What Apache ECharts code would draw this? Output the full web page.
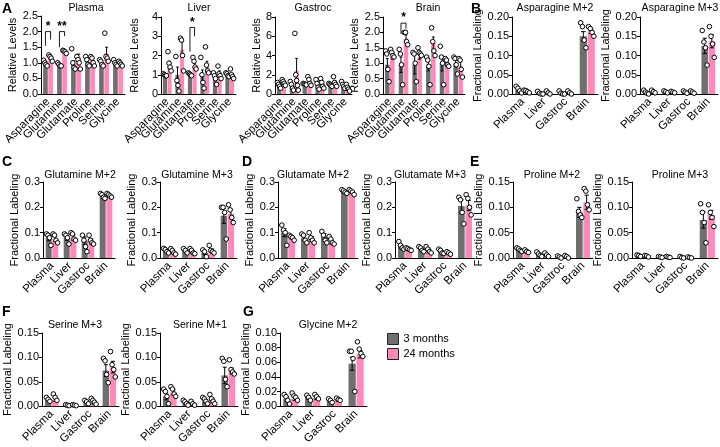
<!DOCTYPE html>
<html>
<head>
<meta charset="utf-8">
<script src="https://cdn.jsdelivr.net/npm/echarts@6/dist/echarts.min.js"></script>
<style>
  html, body { margin: 0; padding: 0; background: #fff; }
  #chart { width: 720px; height: 447px; }
</style>
</head>
<body>
<div id="chart"></div>
<script>
// categories
const aminoAcids = ['Asparagine', 'Glutamine', 'Glutamate', 'Proline', 'Serine', 'Glycine'];
const tissues = ['Plasma', 'Liver', 'Gastroc', 'Brain'];
const groups = ['3 months', '24 months'];

// A - relative levels
const plasmaMean3 = [1.0, 0.95, 0.95, 1.02, 1.0, 1.0];
const plasmaMean24 = [1.15, 1.33, 1.18, 1.08, 1.3, 0.95];
const plasmaSem3 = [0.04, 0.03, 0.12, 0.06, 0.05, 0.04];
const plasmaSem24 = [0.05, 0.03, 0.1, 0.06, 0.2, 0.03];
const plasmaPts3 = [[1.08, 1.0, 0.95, 0.9], [1.0, 0.95, 0.9, 0.9], [1.45, 1.0, 0.85, 0.8], [1.2, 1.1, 0.95, 0.9], [1.1, 1.05, 0.95, 0.9], [1.1, 1.0, 0.95, 0.9]];
const plasmaPts24 = [[1.25, 1.2, 1.15, 1.05], [1.4, 1.38, 1.35, 1.3], [1.2, 1.1, 1.0, 0.8], [1.2, 1.15, 1.0, 0.9], [1.95, 1.2, 1.15, 1.05], [1.05, 1.0, 0.95, 0.9]];
const plasmaSig = [[0, 2.0, 1.55, 1.75, '*'], [1, 2.0, 1.5, 1.85, '**']];

const liverMean3 = [1.0, 1.0, 1.0, 0.95, 1.0, 1.0];
const liverMean24 = [1.5, 2.3, 1.45, 1.4, 1.05, 0.95];
const liverSem3 = [0.03, 0.4, 0.05, 0.3, 0.12, 0.06];
const liverSem24 = [0.2, 0.4, 0.15, 0.3, 0.15, 0.1];
const liverPts3 = [[1.05, 1.0, 0.95, 0.95], [1.95, 0.7, 0.45, 0.15], [1.1, 1.05, 1.0, 0.95], [1.9, 1.0, 0.6, 0.3], [1.1, 0.95, 0.8, 0.5], [1.1, 1.05, 0.95, 0.9]];
const liverPts24 = [[2.2, 1.6, 1.4, 1.2], [2.9, 2.8, 2.0, 1.2], [1.9, 1.7, 1.4, 1.3], [2.45, 1.5, 1.2, 1.1], [1.45, 1.05, 0.95, 0.8], [1.3, 1.0, 0.9, 0.8]];
const liverSig = [[2, 3.46, 2.2, 3.0, '*']];

const gastrocMean3 = [1.0, 0.9, 1.0, 1.0, 1.0, 0.9];
const gastrocMean24 = [1.2, 2.4, 1.3, 0.9, 1.1, 0.5];
const gastrocSem3 = [0.15, 0.2, 0.05, 0.2, 0.1, 0.15];
const gastrocSem24 = [0.15, 1.3, 0.2, 0.2, 0.25, 0.15];
const gastrocPts3 = [[1.2, 1.0, 0.8, 0.6], [1.3, 1.0, 0.6, 0.4], [1.1, 1.05, 1.0, 0.95], [1.5, 1.1, 0.7, 0.5], [1.1, 1.0, 0.9, 0.8], [1.3, 1.0, 0.8, 0.6]];
const gastrocPts24 = [[1.5, 1.3, 1.1, 0.9], [6.3, 2.0, 1.4, 0.9, 0.4], [1.8, 1.5, 1.1, 0.9], [1.6, 1.2, 0.8, 0.6], [1.8, 1.2, 1.0, 0.8], [1.0, 0.7, 0.5, 0.3]];

const brainMean3 = [0.95, 0.95, 0.95, 0.95, 1.0, 1.0];
const brainMean24 = [1.2, 1.8, 1.2, 1.65, 0.95, 0.9];
const brainSem3 = [0.2, 0.25, 0.3, 0.2, 0.25, 0.12];
const brainSem24 = [0.07, 0.12, 0.07, 0.2, 0.07, 0.15];
const brainPts3 = [[1.4, 1.3, 0.8, 0.4], [1.45, 1.3, 0.95, 0.3], [1.35, 1.3, 1.0, 0.4], [1.2, 1.1, 0.9, 0.3], [1.55, 1.2, 1.0, 0.3], [1.2, 1.15, 0.95, 0.65]];
const brainPts24 = [[1.45, 1.35, 1.25, 1.2], [2.0, 2.0, 1.7, 1.6], [1.5, 1.35, 1.3, 1.25], [2.15, 1.7, 1.4, 1.25], [1.15, 1.1, 0.95, 0.9], [1.15, 1.1, 0.8, 0.55]];
const brainSig = [[1, 2.3, 1.95, 2.12, '*']];

// B - asparagine
const asnM2Mean3 = [0.01, 0.002, 0.002, 0.15];
const asnM2Mean24 = [0.006, 0.002, 0.002, 0.163];
const asnM2Sem3 = [0.004, 0.002, 0.002, 0.012];
const asnM2Sem24 = [0.002, 0.002, 0.002, 0.006];
const asnM2Pts3 = [[0.02, 0.015, 0.008, 0.003], [0.007, 0.002, 0.0, 0.0], [0.008, 0.002, 0.0, 0.0], [0.185, 0.175, 0.14, 0.12]];
const asnM2Pts24 = [[0.01, 0.009, 0.006, 0.003], [0.008, 0.003, 0.0], [0.008, 0.003, 0.0], [0.175, 0.17, 0.16, 0.15]];

const asnM3Mean3 = [0.004, 0.004, 0.004, 0.125];
const asnM3Mean24 = [0.004, 0.003, 0.003, 0.137];
const asnM3Sem3 = [0.002, 0.001, 0.001, 0.02];
const asnM3Sem24 = [0.002, 0.001, 0.001, 0.017];
const asnM3Pts3 = [[0.01, 0.005, 0.002, 0.0], [0.008, 0.006, 0.003], [0.008, 0.005, 0.002], [0.165, 0.135, 0.12, 0.075]];
const asnM3Pts24 = [[0.01, 0.006, 0.003], [0.007, 0.005, 0.003], [0.008, 0.005, 0.002], [0.175, 0.15, 0.13, 0.095]];

// C - glutamine
const glnM2Mean3 = [0.08, 0.08, 0.068, 0.24];
const glnM2Mean24 = [0.075, 0.08, 0.065, 0.245];
const glnM2Sem3 = [0.012, 0.01, 0.015, 0.005];
const glnM2Sem24 = [0.01, 0.01, 0.01, 0.004];
const glnM2Pts3 = [[0.095, 0.09, 0.08, 0.05], [0.095, 0.09, 0.08, 0.055], [0.09, 0.07, 0.045, 0.025], [0.255, 0.25, 0.24, 0.235]];
const glnM2Pts24 = [[0.095, 0.09, 0.07, 0.06], [0.1, 0.095, 0.075, 0.07], [0.09, 0.07, 0.06, 0.055], [0.255, 0.25, 0.245, 0.24]];

const glnM3Mean3 = [0.03, 0.028, 0.02, 0.167];
const glnM3Mean24 = [0.025, 0.025, 0.03, 0.175];
const glnM3Sem3 = [0.005, 0.004, 0.007, 0.03];
const glnM3Sem24 = [0.006, 0.005, 0.006, 0.017];
const glnM3Pts3 = [[0.038, 0.033, 0.025, 0.02], [0.037, 0.03, 0.02], [0.032, 0.025, 0.005], [0.2, 0.2, 0.18, 0.075]];
const glnM3Pts24 = [[0.037, 0.03, 0.02, 0.015], [0.037, 0.03, 0.02, 0.017], [0.05, 0.03, 0.025, 0.02], [0.21, 0.19, 0.16, 0.14]];

// D - glutamate
const gluM2Mean3 = [0.1, 0.08, 0.085, 0.26];
const gluM2Mean24 = [0.08, 0.075, 0.063, 0.26];
const gluM2Sem3 = [0.016, 0.01, 0.012, 0.004];
const gluM2Sem24 = [0.005, 0.01, 0.008, 0.005];
const gluM2Pts3 = [[0.13, 0.11, 0.1, 0.05], [0.095, 0.09, 0.07, 0.06], [0.105, 0.09, 0.07, 0.06], [0.27, 0.265, 0.26, 0.255]];
const gluM2Pts24 = [[0.09, 0.085, 0.08, 0.07], [0.1, 0.08, 0.07, 0.06], [0.085, 0.075, 0.06, 0.055], [0.27, 0.265, 0.26, 0.25]];

const gluM3Mean3 = [0.045, 0.035, 0.025, 0.205];
const gluM3Mean24 = [0.035, 0.033, 0.018, 0.207];
const gluM3Sem3 = [0.007, 0.005, 0.004, 0.025];
const gluM3Sem24 = [0.003, 0.006, 0.003, 0.02];
const gluM3Pts3 = [[0.065, 0.05, 0.04, 0.035], [0.045, 0.04, 0.03, 0.025], [0.035, 0.03, 0.02, 0.018], [0.24, 0.23, 0.18, 0.135]];
const gluM3Pts24 = [[0.04, 0.037, 0.033, 0.03], [0.045, 0.035, 0.025, 0.02], [0.025, 0.02, 0.015], [0.25, 0.235, 0.2, 0.17]];

// E - proline
const proM2Mean3 = [0.016, 0.007, 0.002, 0.09];
const proM2Mean24 = [0.012, 0.005, 0.003, 0.11];
const proM2Sem3 = [0.002, 0.002, 0.001, 0.01];
const proM2Sem24 = [0.001, 0.002, 0.001, 0.014];
const proM2Pts3 = [[0.02, 0.018, 0.015, 0.013], [0.012, 0.008, 0.005, 0.003], [0.004, 0.002, 0.0], [0.117, 0.092, 0.085, 0.08]];
const proM2Pts24 = [[0.016, 0.013, 0.011], [0.01, 0.006, 0.003], [0.005, 0.003, 0.0], [0.137, 0.132, 0.105, 0.095]];

const proM3Mean3 = [0.004, 0.002, 0.001, 0.075];
const proM3Mean24 = [0.003, 0.002, 0.001, 0.085];
const proM3Sem3 = [0.001, 0.001, 0.001, 0.016];
const proM3Sem24 = [0.001, 0.001, 0.001, 0.009];
const proM3Pts3 = [[0.006, 0.005, 0.003], [0.003, 0.002, 0.001], [0.003, 0.001, 0.0], [0.107, 0.09, 0.07, 0.03]];
const proM3Pts24 = [[0.005, 0.004, 0.002], [0.003, 0.002, 0.001], [0.002, 0.001, 0.0], [0.105, 0.09, 0.08, 0.062]];

// F - serine
const serM3Mean3 = [0.013, 0.002, 0.008, 0.073];
const serM3Mean24 = [0.013, 0.002, 0.007, 0.08];
const serM3Sem3 = [0.002, 0.001, 0.002, 0.012];
const serM3Sem24 = [0.003, 0.001, 0.003, 0.012];
const serM3Pts3 = [[0.018, 0.014, 0.01], [0.003, 0.002, 0.001], [0.012, 0.009, 0.005], [0.098, 0.093, 0.065, 0.048]];
const serM3Pts24 = [[0.025, 0.018, 0.012], [0.003, 0.002, 0.001], [0.016, 0.012, 0.008, 0.004], [0.112, 0.085, 0.075, 0.06]];

const serM1Mean3 = [0.02, 0.006, 0.01, 0.063];
const serM1Mean24 = [0.028, 0.005, 0.013, 0.072];
const serM1Sem3 = [0.007, 0.002, 0.003, 0.017];
const serM1Sem24 = [0.005, 0.002, 0.004, 0.006];
const serM1Pts3 = [[0.035, 0.03, 0.02, 0.005], [0.012, 0.009, 0.005, 0.002], [0.018, 0.015, 0.01, 0.005], [0.098, 0.092, 0.055, 0.04]];
const serM1Pts24 = [[0.04, 0.035, 0.025, 0.02], [0.01, 0.005, 0.002], [0.024, 0.015, 0.01, 0.005], [0.095, 0.075, 0.07, 0.066]];

// G - glycine
const glyM2Mean3 = [0.01, 0.012, 0.007, 0.058];
const glyM2Mean24 = [0.01, 0.011, 0.008, 0.071];
const glyM2Sem3 = [0.003, 0.002, 0.001, 0.009];
const glyM2Sem24 = [0.002, 0.002, 0.001, 0.005];
const glyM2Pts3 = [[0.016, 0.013, 0.008, 0.003], [0.015, 0.012, 0.008], [0.01, 0.008, 0.005], [0.075, 0.075, 0.065, 0.02]];
const glyM2Pts24 = [[0.018, 0.014, 0.012, 0.008], [0.016, 0.013, 0.01], [0.011, 0.009, 0.008], [0.088, 0.078, 0.072, 0.068]];

const GRAY = '#6f6f6f';
const PINK = '#ff8ab9';
const FONT = '"Liberation Sans", Arial, sans-serif';
const CAT_GAP = 0.3;
const BAR_GAP = 0.1;

// panel layout: box = [left, top, right, bottom] in px
const panels = [
    {title: 'Plasma', cx: 86, ty: 3, cats: aminoAcids, m: [plasmaMean3, plasmaMean24], s: [plasmaSem3, plasmaSem24], p: [plasmaPts3, plasmaPts24], sig: plasmaSig, yMax: 2.5, step: 0.5, dec: 1, yName: 'Relative Levels', gap: 15, box: [41, 16, 125, 94]},
    {title: 'Liver', cx: 199, ty: 3, cats: aminoAcids, m: [liverMean3, liverMean24], s: [liverSem3, liverSem24], p: [liverPts3, liverPts24], sig: liverSig, yMax: 4, step: 1, dec: 0, yName: 'Relative Levels', gap: 21, box: [161, 17, 236, 94]},
    {title: 'Gastroc', cx: 313, ty: 3, cats: aminoAcids, m: [gastrocMean3, gastrocMean24], s: [gastrocSem3, gastrocSem24], p: [gastrocPts3, gastrocPts24], sig: [], yMax: 8, step: 2, dec: 0, yName: 'Relative Levels', gap: 11, box: [275, 17, 352, 94]},
    {title: 'Brain', cx: 428, ty: 3, cats: aminoAcids, m: [brainMean3, brainMean24], s: [brainSem3, brainSem24], p: [brainPts3, brainPts24], sig: brainSig, yMax: 2.5, step: 0.5, dec: 1, yName: 'Relative Levels', gap: 15, box: [383, 17, 465, 94]},
    {title: 'Asparagine M+2', cx: 555, ty: 3, cats: tissues, m: [asnM2Mean3, asnM2Mean24], s: [asnM2Sem3, asnM2Sem24], p: [asnM2Pts3, asnM2Pts24], sig: [], yMax: 0.2, step: 0.05, dec: 2, yName: 'Fractional Labeling', gap: 20, box: [512, 17, 598, 94]},
    {title: 'Asparagine M+3', cx: 680, ty: 3, cats: tissues, m: [asnM3Mean3, asnM3Mean24], s: [asnM3Sem3, asnM3Sem24], p: [asnM3Pts3, asnM3Pts24], sig: [], yMax: 0.2, step: 0.05, dec: 2, yName: 'Fractional Labeling', gap: 22, box: [640, 17, 718, 94]},
    {title: 'Glutamine M+2', cx: 80, ty: 170, cats: tissues, m: [glnM2Mean3, glnM2Mean24], s: [glnM2Sem3, glnM2Sem24], p: [glnM2Pts3, glnM2Pts24], sig: [], yMax: 0.3, step: 0.1, dec: 1, yName: 'Fractional Labeling', gap: 20, box: [43, 182, 115, 258]},
    {title: 'Glutamine M+3', cx: 197, ty: 170, cats: tissues, m: [glnM3Mean3, glnM3Mean24], s: [glnM3Sem3, glnM3Sem24], p: [glnM3Pts3, glnM3Pts24], sig: [], yMax: 0.3, step: 0.1, dec: 1, yName: 'Fractional Labeling', gap: 18, box: [160, 182, 237, 258]},
    {title: 'Glutamate M+2', cx: 313, ty: 170, cats: tissues, m: [gluM2Mean3, gluM2Mean24], s: [gluM2Sem3, gluM2Sem24], p: [gluM2Pts3, gluM2Pts24], sig: [], yMax: 0.3, step: 0.1, dec: 1, yName: 'Fractional Labeling', gap: 19, box: [278, 182, 358, 258]},
    {title: 'Glutamate M+3', cx: 430, ty: 170, cats: tissues, m: [gluM3Mean3, gluM3Mean24], s: [gluM3Sem3, gluM3Sem24], p: [gluM3Pts3, gluM3Pts24], sig: [], yMax: 0.3, step: 0.1, dec: 1, yName: 'Fractional Labeling', gap: 19, box: [395, 182, 475, 258]},
    {title: 'Proline M+2', cx: 552, ty: 170, cats: tissues, m: [proM2Mean3, proM2Mean24], s: [proM2Sem3, proM2Sem24], p: [proM2Pts3, proM2Pts24], sig: [], yMax: 0.15, step: 0.05, dec: 2, yName: 'Fractional Labeling', gap: 22, box: [513, 182, 593, 258]},
    {title: 'Proline M+3', cx: 680, ty: 170, cats: tissues, m: [proM3Mean3, proM3Mean24], s: [proM3Sem3, proM3Sem24], p: [proM3Pts3, proM3Pts24], sig: [], yMax: 0.15, step: 0.05, dec: 2, yName: 'Fractional Labeling', gap: 17, box: [632, 182, 718, 258]},
    {title: 'Serine M+3', cx: 75, ty: 320, cats: tissues, m: [serM3Mean3, serM3Mean24], s: [serM3Sem3, serM3Sem24], p: [serM3Pts3, serM3Pts24], sig: [], yMax: 0.15, step: 0.05, dec: 2, yName: 'Fractional Labeling', gap: 23, box: [42, 333, 119, 411]},
    {title: 'Serine M+1', cx: 200, ty: 320, cats: tissues, m: [serM1Mean3, serM1Mean24], s: [serM1Sem3, serM1Sem24], p: [serM1Pts3, serM1Pts24], sig: [], yMax: 0.15, step: 0.05, dec: 2, yName: 'Fractional Labeling', gap: 22, box: [160, 333, 238, 411]},
    {title: 'Glycine M+2', cx: 328, ty: 320, cats: tissues, m: [glyM2Mean3, glyM2Mean24], s: [glyM2Sem3, glyM2Sem24], p: [glyM2Pts3, glyM2Pts24], sig: [], yMax: 0.1, step: 0.02, dec: 2, yName: 'Fractional Labeling', gap: 14, box: [280, 333, 367, 411]}
];

const letters = [['A', 2, 2], ['B', 471, 2], ['C', 2, 155], ['D', 242, 155], ['E', 470, 155], ['F', 2, 305], ['G', 243, 305]];

// bar geometry helper (same rule ECharts uses for two bars per category)
function barOffset (api, side) {
    const w = api.size([1, 0])[0];
    const bw = w * (1 - CAT_GAP) / (2 + BAR_GAP);
    return {bw: bw, dx: side * bw * (1 + BAR_GAP) / 2};
}

function errorRender (side) {
    return function (params, api) {
        const cat = api.value(0);
        const m = api.value(1);
        const s = api.value(2);
        const g = barOffset(api, side);
        const x = api.coord([cat, m])[0] + g.dx;
        const top = api.coord([cat, m + s])[1];
        const bot = api.coord([cat, Math.max(0, m - s)])[1];
        const cap = g.bw * 0.32;
        const st = {stroke: '#000', lineWidth: 1};
        return {
            type: 'group',
            children: [
                {type: 'line', shape: {x1: x, y1: top, x2: x, y2: bot}, style: st},
                {type: 'line', shape: {x1: x - cap, y1: top, x2: x + cap, y2: top}, style: st},
                {type: 'line', shape: {x1: x - cap, y1: bot, x2: x + cap, y2: bot}, style: st}
            ]
        };
    };
}

function dotRender (side) {
    return function (params, api) {
        const cat = api.value(0);
        const v = api.value(1);
        const j = api.value(2);
        const n = api.value(3);
        const g = barOffset(api, side);
        const spread = Math.min(1.8, g.bw / n);
        const c = api.coord([cat, v]);
        return {
            type: 'circle',
            shape: {cx: c[0] + g.dx + (j - (n - 1) / 2) * spread, cy: c[1], r: 2.3},
            style: {fill: '#fff', stroke: '#000', lineWidth: 1}
        };
    };
}

const sigLabels = {};

function sigRender (params, api) {
    const cat = api.value(0);
    const gl = barOffset(api, -1);
    const gr = barOffset(api, 1);
    const c = api.coord([cat, api.value(1)]);
    const xl = c[0] + gl.dx;
    const xr = c[0] + gr.dx;
    const yt = c[1];
    const yl = api.coord([cat, api.value(2)])[1];
    const yr = api.coord([cat, api.value(3)])[1];
    return {
        type: 'group',
        children: [
            {type: 'polyline', shape: {points: [[xl, yl], [xl, yt], [xr, yt], [xr, yr]]}, style: {stroke: '#000', lineWidth: 0.9, fill: null}},
            {type: 'text', x: (xl + xr) / 2, y: yt + 1, style: {text: sigLabels[params.seriesIndex][params.dataIndex], fill: '#000', font: 'bold 12px ' + FONT, align: 'center', verticalAlign: 'bottom'}}
        ]
    };
}

const grid = [];
const xAxis = [];
const yAxis = [];
const series = [];
const graphic = [];

panels.forEach(function (pn, i) {
    const b = pn.box;
    grid.push({left: b[0], top: b[1], width: b[2] - b[0], height: b[3] - b[1]});
    xAxis.push({
        type: 'category', gridIndex: i, data: pn.cats,
        axisLine: {lineStyle: {color: '#000', width: 1}},
        axisTick: {alignWithLabel: true, length: 3, lineStyle: {color: '#000'}},
        axisLabel: {rotate: 45, interval: 0, margin: 6, color: '#000', fontSize: 11.5, fontFamily: FONT}
    });
    yAxis.push({
        type: 'value', gridIndex: i, min: 0, max: pn.yMax, interval: pn.step,
        name: pn.yName, nameLocation: 'middle', nameGap: pn.gap,
        nameTextStyle: {color: '#000', fontSize: 11, fontFamily: FONT},
        axisLine: {show: true, lineStyle: {color: '#000', width: 1}},
        axisTick: {show: true, length: 3, lineStyle: {color: '#000'}},
        splitLine: {show: false},
        axisLabel: {margin: 3, color: '#000', fontSize: 11, fontFamily: FONT, formatter: function (v) { return v.toFixed(pn.dec); }}
    });
    [0, 1].forEach(function (k) {
        const side = k === 0 ? -1 : 1;
        series.push({
            type: 'bar', name: groups[k], xAxisIndex: i, yAxisIndex: i,
            data: pn.m[k], barGap: (BAR_GAP * 100) + '%', barCategoryGap: (CAT_GAP * 100) + '%',
            itemStyle: {color: k === 0 ? GRAY : PINK}, z: 2, silent: true
        });
        series.push({
            type: 'custom', xAxisIndex: i, yAxisIndex: i, z: 3, silent: true,
            renderItem: errorRender(side),
            data: pn.m[k].map(function (v, c) { return [c, v, pn.s[k][c]]; })
        });
        const dots = [];
        pn.p[k].forEach(function (arr, c) {
            arr.forEach(function (v, j) { dots.push([c, v, j, arr.length]); });
        });
        series.push({
            type: 'custom', xAxisIndex: i, yAxisIndex: i, z: 4, silent: true,
            renderItem: dotRender(side), data: dots
        });
    });
    if (pn.sig.length) {
        sigLabels[series.length] = pn.sig.map(function (r) { return r[4]; });
        series.push({
            type: 'custom', xAxisIndex: i, yAxisIndex: i, z: 5, silent: true,
            renderItem: sigRender,
            data: pn.sig.map(function (r) { return [r[0], r[1], r[2], r[3]]; })
        });
    }
    graphic.push({
        type: 'text', x: pn.cx, y: pn.ty, silent: true,
        style: {text: pn.title, fill: '#000', font: '10.5px ' + FONT, align: 'center', verticalAlign: 'top', textAlign: 'center', textVerticalAlign: 'top'}
    });
});

letters.forEach(function (l) {
    graphic.push({type: 'text', x: l[1], y: l[2], silent: true, style: {text: l[0], fill: '#000', font: 'bold 14px ' + FONT, verticalAlign: 'top'}});
});

const chart = echarts.init(document.getElementById('chart'), null, {renderer: 'canvas'});
chart.setOption({
    animation: false,
    backgroundColor: '#fff',
    textStyle: {fontFamily: FONT},
    grid: grid,
    xAxis: xAxis,
    yAxis: yAxis,
    legend: {
        data: groups, orient: 'vertical', left: 382, top: 328,
        itemWidth: 11, itemHeight: 11, itemGap: 3, icon: 'rect',
        textStyle: {color: '#000', fontSize: 11, fontFamily: FONT},
        itemStyle: {borderColor: '#222', borderWidth: 1}
    },
    series: series,
    graphic: graphic
});
</script>
</body>
</html>
